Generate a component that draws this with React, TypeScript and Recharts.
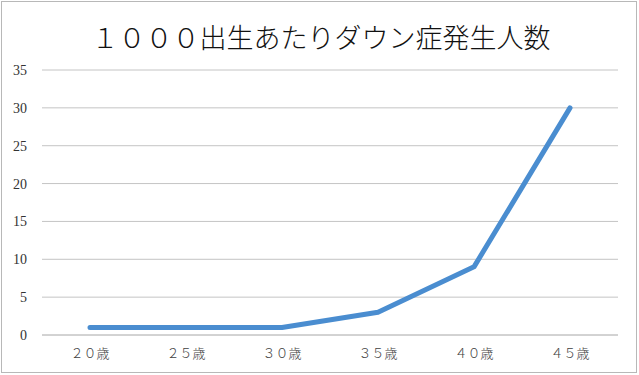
import React from 'react';
import { LineChart, Line, XAxis, YAxis, CartesianGrid } from 'recharts';

const categories = ['２０歳', '２５歳', '３０歳', '３５歳', '４０歳', '４５歳'];
const births = [1, 1, 1, 3, 9, 30];
const yTicks = [0, 5, 10, 15, 20, 25, 30, 35];
const title = '１０００出生あたりダウン症発生人数';

const data = categories.map((c, i) => ({ name: c, value: births[i] }));

const XTick = (props: any) => {
  const { x, y, payload } = props;
  return (
    <text
      x={x}
      y={y + 21}
      textAnchor="middle"
      fill="#404040"
      style={{ fontFamily: "'Noto Sans CJK JP'", fontSize: '13px', fontWeight: 300 }}
    >
      {payload.value}
    </text>
  );
};

const YTick = (props: any) => {
  const { y, payload } = props;
  return (
    <text
      x={27}
      y={y + 5}
      textAnchor="end"
      fill="#333"
      style={{ fontFamily: "'Liberation Serif', 'DejaVu Serif', serif", fontSize: '14px' }}
    >
      {String(payload.value)}
    </text>
  );
};

export default function App() {
  return (
    <div style={{ position: 'absolute', left: 0, top: 0, width: 639, height: 375, background: '#fff' }}>
      <div
        style={{
          position: 'absolute',
          left: 1,
          top: 1,
          width: 636,
          height: 372,
          border: '1px solid #b8b8b8',
          boxSizing: 'border-box',
        }}
      />
      <div
        style={{
          position: 'absolute',
          left: 0,
          top: 18,
          width: 642,
          textAlign: 'center',
          fontFamily: '"Noto Sans CJK JP", sans-serif',
          fontSize: 27,
          lineHeight: '38px',
          color: '#111',
          fontWeight: 300,
        }}
      >
        {title}
      </div>
      <LineChart
        width={639}
        height={375}
        data={data}
        margin={{ top: 70, right: 21, bottom: 0, left: 0 }}
        style={{ position: 'absolute', left: 0, top: 0 }}
      >
        <CartesianGrid vertical={false} stroke="#c4c4c4" strokeWidth={1} />
        <XAxis
          dataKey="name"
          height={40}
          tickLine={false}
          axisLine={{ stroke: '#c4c4c4' }}
          tickSize={0}
          interval={0}
          padding={{ left: 48, right: 48 }}
          tick={<XTick />}
        />
        <YAxis
          width={42}
          domain={[0, 35]}
          ticks={yTicks}
          tickLine={false}
          axisLine={false}
          tickSize={0}
          tick={<YTick />}
        />
        <Line
          type="linear"
          dataKey="value"
          stroke="#4a8dd0"
          strokeWidth={5}
          strokeLinecap="round"
          strokeLinejoin="round"
          dot={false}
          isAnimationActive={false}
        />
      </LineChart>
    </div>
  );
}
